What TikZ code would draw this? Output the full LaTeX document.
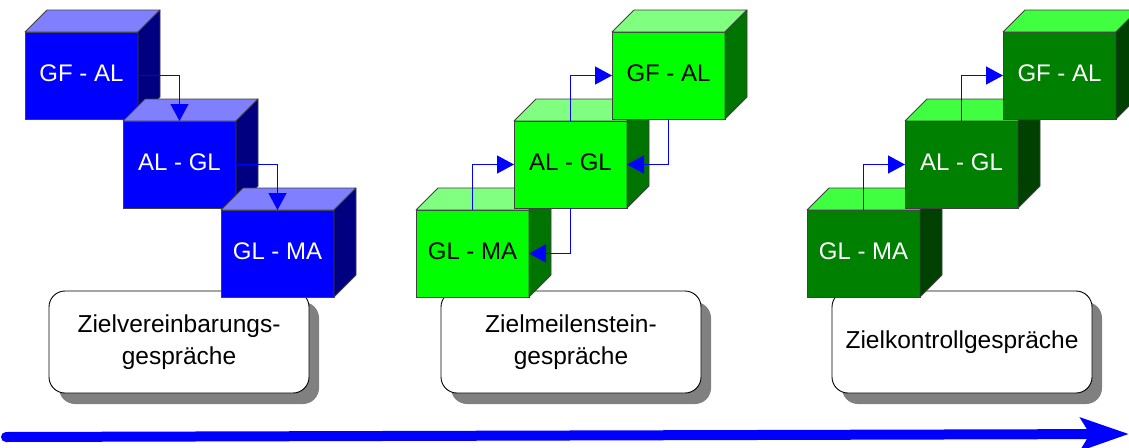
\documentclass[tikz,border=0pt]{standalone}
\usepackage{fontspec}
\setmainfont{Liberation Sans}
\usetikzlibrary{arrows.meta,shadows}
\definecolor{bFront}{HTML}{0000FF}
\definecolor{bTop}{HTML}{8080FF}
\definecolor{bSide}{HTML}{000080}
\definecolor{gFront}{HTML}{00FF00}
\definecolor{gTop}{HTML}{80FF80}
\definecolor{gSide}{HTML}{007400}
\definecolor{dFront}{HTML}{008000}
\definecolor{dTop}{HTML}{40FF40}
\definecolor{dSide}{HTML}{004000}
\definecolor{shadowgray}{HTML}{808080}
\tikzset{
  cube/.style={draw=black!75, line width=0.8pt, rectangle, minimum width=113pt, minimum height=87pt,
    inner sep=0pt, outer sep=0pt, anchor=north west, font=\fontsize{24}{28}\selectfont,
    text height=17pt, text depth=6pt},
  cubeedge/.style={draw=black!75, line width=0.8pt, line join=round},
  talkbox/.style={draw=black, line width=0.9pt, fill=white, rectangle, rounded corners=16pt,
    minimum width=260pt, minimum height=102pt, inner sep=0pt, outer sep=0pt, anchor=north west,
    align=center, font=\fontsize{24.5}{32}\selectfont,
    drop shadow={shadow xshift=10pt, shadow yshift=-11pt, fill=shadowgray, opacity=1}},
  conn/.style={draw=bFront, line width=1.2pt, -{Triangle[length=17pt,width=18pt]}},
  timeline/.style={draw=bFront, line width=10pt, line cap=round,
    -{Stealth[length=48pt,width=32pt,inset=9pt]}}
}
\newcommand{\cubeat}[7]{%
  \node[cube, fill=#4, text=#7] (#1) at #2 {#3};
  \filldraw[cubeedge, fill=#5] (#1.north west) -- ++(22,-22) -- ++(113,0) -- (#1.north east) -- cycle;
  \filldraw[cubeedge, fill=#6] (#1.north east) -- ++(22,-22) -- ++(0,87) -- (#1.south east) -- cycle;
}
\begin{document}
\begin{tikzpicture}[x=1pt,y=-1pt]
\useasboundingbox (0,0) rectangle (1129,447);
\clip (0,0) rectangle (1129,447);
\fill[white] (0,0) rectangle (1129,447);
% talk boxes
\node[talkbox] (z1) at (49,291) {Zielvereinbarungs-\\gespräche};
\node[talkbox] (z2) at (441,291) {Zielmeilenstein-\\gespräche};
\node[talkbox] (z3) at (832,291) {Zielkontrollgespräche};
% blue cubes
\cubeat{b1}{(25,32)}{GF - AL}{bFront}{bTop}{bSide}{white}
\cubeat{b2}{(123,121)}{AL - GL}{bFront}{bTop}{bSide}{white}
\cubeat{b3}{(221,210)}{GL - MA}{bFront}{bTop}{bSide}{white}
% bright green cubes
\cubeat{g1}{(416,210)}{GL - MA}{gFront}{gTop}{gSide}{black}
\cubeat{g2}{(514,121)}{AL - GL}{gFront}{gTop}{gSide}{black}
\cubeat{g3}{(612,32)}{GF - AL}{gFront}{gTop}{gSide}{black}
% dark green cubes
\cubeat{d1}{(807,210)}{GL - MA}{dFront}{dTop}{dSide}{white}
\cubeat{d2}{(905,121)}{AL - GL}{dFront}{dTop}{dSide}{white}
\cubeat{d3}{(1003,32)}{GF - AL}{dFront}{dTop}{dSide}{white}
% connectors
\draw[conn] (b1.east) -| (b2.north);
\draw[conn] (b2.east) -| (b3.north);
\draw[conn] (g1.north) |- (g2.west);
\draw[conn] (g2.north) |- (g3.west);
\draw[conn] (g3.south) |- (g2.east);
\draw[conn] (g2.south) |- (g1.east);
\draw[conn] (d1.north) |- (d2.west);
\draw[conn] (d2.north) |- (d3.west);
% time arrow
\coordinate (tstart) at (6,437);
\coordinate (tend) at (1129,434);
\draw[timeline] (tstart) -- (tend);
\end{tikzpicture}
\end{document}
